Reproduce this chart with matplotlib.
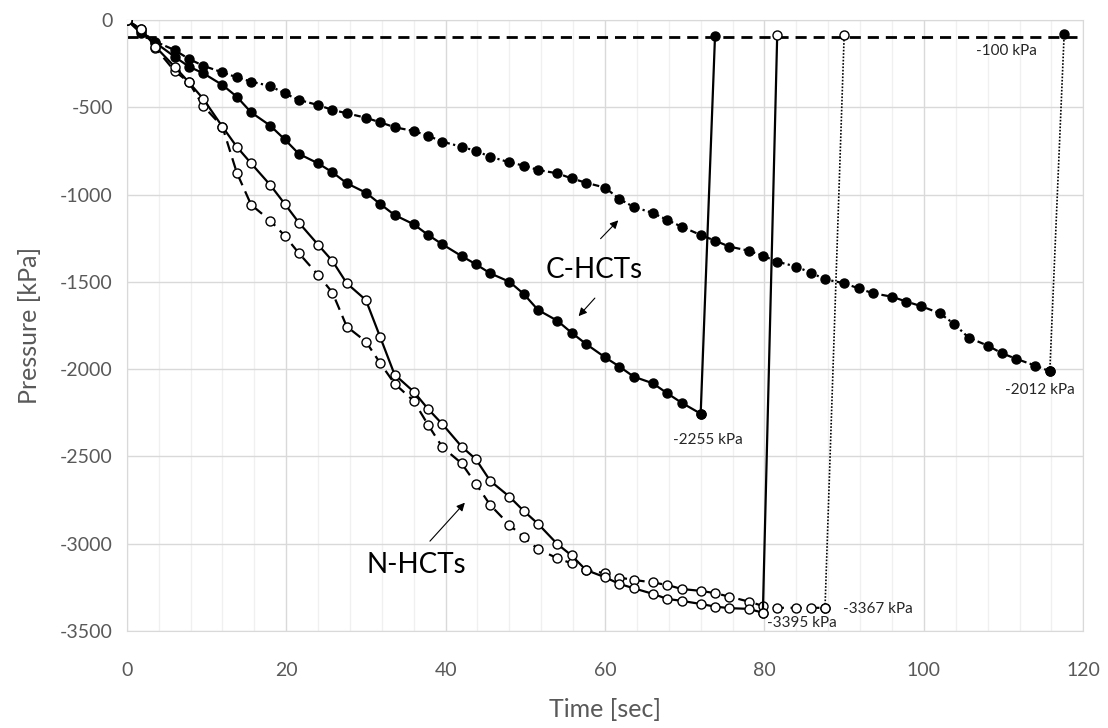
import matplotlib
matplotlib.use("Agg")
import matplotlib.pyplot as plt

plt.rcParams['font.family'] = ['Lato', 'DejaVu Sans']
plt.rcParams['axes.unicode_minus'] = False

# sampling times [sec]
t = [0, 1.8, 3.6, 6, 7.8, 9.6, 12, 13.8, 15.6, 18, 19.8, 21.6, 24, 25.8, 27.6,
     30, 31.8, 33.6, 36, 37.8, 39.6, 42, 43.8, 45.6, 48, 49.8, 51.6, 54, 55.8,
     57.6, 60, 61.8, 63.6, 66, 67.8, 69.6, 72, 73.8, 75.6, 78, 79.8, 81.6, 84,
     85.8, 87.6, 90, 91.8, 93.6, 96, 97.8, 99.6, 102, 103.8, 105.6, 108, 109.8,
     111.6, 114, 115.8]

# C-HCT, dotted line (filled markers)
c_dot = [0, -65, -124, -172, -223, -262, -300, -328, -353, -378, -420, -458,
         -487, -515, -534, -560, -586, -614, -636, -663, -697, -726, -750, -783,
         -815, -834, -859, -878, -907, -932, -960, -1025, -1071, -1105, -1145,
         -1184, -1231, -1264, -1298, -1321, -1350, -1384, -1413, -1447, -1485,
         -1508, -1537, -1565, -1585, -1613, -1638, -1680, -1741, -1819, -1865,
         -1909, -1941, -1980, -2012]
c_dot_jump = (117.6, -80)

# C-HCT, solid line (filled markers)
c_sol = [0, -76, -130, -210, -267, -305, -372, -439, -529, -605, -683, -767,
         -821, -872, -935, -989, -1054, -1117, -1170, -1231, -1285, -1352,
         -1399, -1451, -1499, -1569, -1661, -1722, -1791, -1855, -1932, -1985,
         -2043, -2081, -2138, -2192, -2255]
c_sol_jump = (73.8, -90)

# N-HCT, solid line (open markers)
n_sol = [0, -53, -153, -267, -357, -452, -611, -726, -821, -945, -1052, -1161,
         -1287, -1380, -1508, -1604, -1817, -2031, -2129, -2228, -2315, -2443,
         -2516, -2640, -2730, -2812, -2886, -3001, -3067, -3150, -3192, -3230,
         -3255, -3287, -3316, -3327, -3345, -3360, -3369, -3373, -3395]
n_sol_jump = (81.6, -88)

# N-HCT, dashed line (open markers)
n_dash = [0, -53, -160, -292, -357, -493, -611, -874, -1058, -1149, -1235,
          -1336, -1460, -1561, -1756, -1842, -1966, -2083, -2182, -2319, -2447,
          -2539, -2657, -2778, -2892, -2963, -3031, -3083, -3112, -3150, -3169,
          -3194, -3207, -3222, -3236, -3259, -3270, -3283, -3303, -3331, -3356,
          -3367, -3367, -3367, -3367]
n_dash_jump = (90, -88)

limit = -100

fig = plt.figure(figsize=(11.08, 7.28), dpi=100)
ax = fig.add_axes([0.1144, 0.1332, 0.8633, 0.8393])

# grid
for x in range(0, 121, 4):
    ax.axvline(x, color='#d9d9d9' if x % 20 == 0 else '#f0f0f0', lw=1, zorder=0)
for y in range(-3500, 1, 500):
    ax.axhline(y, color='#d9d9d9', lw=1, zorder=0)

# -100 kPa line
ax.plot([0, 120], [limit, limit], color='black', lw=2, ls=(0, (4, 2.5)), zorder=2)

filled = dict(marker='o', ms=6.5, mfc='black', mec='black', color='black')
hollow = dict(marker='o', ms=6.5, mfc='white', mec='black', mew=1, color='black')

# C-HCT dotted
n = len(c_dot)
ax.plot(t[:n], c_dot, lw=1.6, ls=(0, (3, 1.5, 1, 1.5)), zorder=3, **filled)
ax.plot([t[n - 1], c_dot_jump[0]], [c_dot[-1], c_dot_jump[1]], lw=1.2, ls=(0, (1, 1)),
        zorder=3, **filled)

# C-HCT solid
n = len(c_sol)
ax.plot(t[:n], c_sol, lw=1.6, zorder=3, **filled)
ax.plot([t[n - 1], c_sol_jump[0]], [c_sol[-1], c_sol_jump[1]], lw=1.6, zorder=3, **filled)

# N-HCT dashed
n = len(n_dash)
ax.plot(t[:n], n_dash, lw=1.6, ls=(0, (5, 3)), zorder=4, **hollow)
ax.plot([t[n - 1], n_dash_jump[0]], [n_dash[-1], n_dash_jump[1]], lw=1.2, ls=(0, (1, 1)),
        zorder=4, **hollow)

# N-HCT solid
n = len(n_sol)
ax.plot(t[:n], n_sol, lw=1.6, zorder=4, **hollow)
ax.plot([t[n - 1], n_sol_jump[0]], [n_sol[-1], n_sol_jump[1]], lw=1.6, zorder=4, **hollow)

# labels of the end values
small = dict(fontsize=11, color='#262626', ha='center', va='center')
ax.text(110.3, -177, '-100 kPa', **small)
ax.text(114.6, -2119, '-2012 kPa', **small)
ax.text(72.9, -2405, '-2255 kPa', **small)
ax.text(84.7, -3453, '-3395 kPa', **small)
ax.text(94.2, -3376, '-3367 kPa', **small)

# series annotations
arrow = dict(arrowstyle='-|>', color='black', lw=0.8, mutation_scale=12)
ax.text(58.7, -1432, 'C-HCTs', fontsize=20, ha='center', va='center')
ax.annotate('', xy=(61.9, -1136), xytext=(59.2, -1264), arrowprops=arrow)
ax.annotate('', xy=(56.45, -1708), xytext=(58.96, -1581), arrowprops=arrow)
ax.text(36.3, -3121, 'N-HCTs', fontsize=20, ha='center', va='center')
ax.annotate('', xy=(42.65, -2753), xytext=(37.8, -2997), arrowprops=arrow)

ax.set_xlim(0, 120)
ax.set_ylim(-3500, 0)
ax.set_xticks(range(0, 121, 20))
ax.set_yticks(range(-3500, 1, 500))
ax.tick_params(length=0, labelsize=14, labelcolor='#595959')
ax.tick_params(axis='x', pad=22)
ax.tick_params(axis='y', pad=10)
for s in ax.spines.values():
    s.set_color('#d9d9d9')
ax.set_xlabel('Time [sec]', fontsize=18, color='#595959', labelpad=14)
ax.set_ylabel('Pressure [kPa]', fontsize=18, color='#595959', labelpad=14)

fig.savefig('out.png', dpi=100)
